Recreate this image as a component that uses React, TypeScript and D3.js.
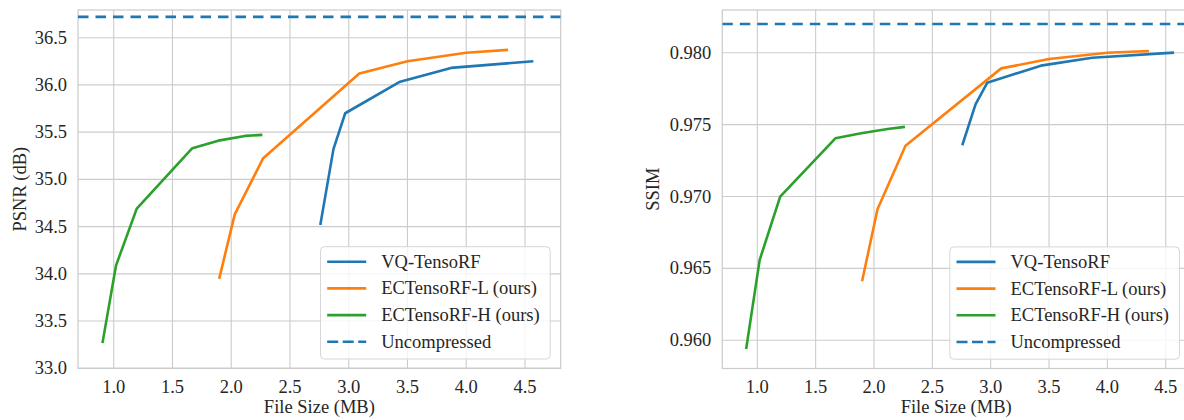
import React from "react";
import * as d3 from "d3";

// ---- data ----
const fileSizeVQ = [2.76, 2.87, 2.97, 3.43, 3.87, 4.56];
const psnrVQ = [34.53, 35.32, 35.7, 36.03, 36.18, 36.25];
const ssimVQ = [0.97365, 0.97641, 0.97791, 0.9791, 0.97965, 0.98];

const fileSizeL = [1.9, 2.03, 2.27, 3.09, 3.5, 4.0, 4.345];
const psnrL = [33.96, 34.63, 35.22, 36.12, 36.25, 36.34, 36.37];
const ssimL = [0.96419, 0.96911, 0.97353, 0.97891, 0.97956, 0.98, 0.98012];

const fileSizeH = [0.906, 1.02, 1.196, 1.669, 1.89, 2.117, 2.254];
const psnrH = [33.28, 34.09, 34.69, 35.33, 35.41, 35.46, 35.47];
const ssimH = [0.95949, 0.96558, 0.96999, 0.97405, 0.9744, 0.9747, 0.97483];

const uncompressedPSNR = 36.72;
const uncompressedSSIM = 0.982;

const seriesNames = ["VQ-TensoRF", "ECTensoRF-L (ours)", "ECTensoRF-H (ours)", "Uncompressed"];
const seriesColors = ["#1f77b4", "#ff7f0e", "#2ca02c", "#1f77b4"];

const xTicks = [1.0, 1.5, 2.0, 2.5, 3.0, 3.5, 4.0, 4.5];
const psnrTicks = [33.0, 33.5, 34.0, 34.5, 35.0, 35.5, 36.0, 36.5];
const ssimTicks = [0.96, 0.965, 0.97, 0.975, 0.98];

const FONT = "'Liberation Serif', 'Times New Roman', serif";
const FS = 18.5;
const TEXT = "#262626";
const GRID = "#cccccc";
const LW = 2.6;
const DASH = "10.5 7";
const LEG_DASH = "11 4.5";

type Panel = {
  x0: number; x1: number; y0: number; y1: number;
  xDomain: [number, number]; yDomain: [number, number];
  yTicks: number[]; yFmt: (v: number) => string;
  ylabel: string; ylabelX: number;
  series: { x: number[]; y: number[] }[];
  hline: number;
};

const panels: Panel[] = [
  {
    x0: 78, x1: 560.7, y0: 10, y1: 368.3,
    xDomain: [0.696, 4.804], yDomain: [33.0, 36.793],
    yTicks: psnrTicks, yFmt: d3.format(".1f"),
    ylabel: "PSNR (dB)", ylabelX: 20,
    series: [
      { x: fileSizeVQ, y: psnrVQ },
      { x: fileSizeL, y: psnrL },
      { x: fileSizeH, y: psnrH },
    ],
    hline: uncompressedPSNR,
  },
  {
    x0: 722.3, x1: 1190, y0: 10, y1: 368.5,
    xDomain: [0.7, 4.708], yDomain: [0.95804, 0.98297],
    yTicks: ssimTicks, yFmt: d3.format(".3f"),
    ylabel: "SSIM", ylabelX: 653,
    series: [
      { x: fileSizeVQ, y: ssimVQ },
      { x: fileSizeL, y: ssimL },
      { x: fileSizeH, y: ssimH },
    ],
    hline: uncompressedSSIM,
  },
];

function PanelView({ p, idx }: { p: Panel; idx: number }) {
  const xs = d3.scaleLinear().domain(p.xDomain).range([p.x0, p.x1]);
  const ys = d3.scaleLinear().domain(p.yDomain).range([p.y1, p.y0]);
  const line = d3
    .line<[number, number]>()
    .x((d) => xs(d[0]))
    .y((d) => ys(d[1]));
  const clipId = `clip-${idx}`;
  const fx = d3.format(".1f");

  const legW = 229.7;
  const legH = 112.3;
  const legX = p.x1 - 10.5 - legW;
  const legY = p.y1 - 9.3 - legH;
  const rowH = 26.7;

  return (
    <g>
      <defs>
        <clipPath id={clipId}>
          <rect x={p.x0} y={p.y0} width={p.x1 - p.x0} height={p.y1 - p.y0} />
        </clipPath>
      </defs>
      {/* grid */}
      {xTicks.map((t) => (
        <line key={"gx" + t} x1={xs(t)} x2={xs(t)} y1={p.y0} y2={p.y1} stroke={GRID} strokeWidth={1.1} />
      ))}
      {p.yTicks.map((t) => (
        <line key={"gy" + t} x1={p.x0} x2={p.x1} y1={ys(t)} y2={ys(t)} stroke={GRID} strokeWidth={1.1} />
      ))}
      {/* spines */}
      <rect x={p.x0} y={p.y0} width={p.x1 - p.x0} height={p.y1 - p.y0} fill="none" stroke={GRID} strokeWidth={1.25} />
      {/* tick labels */}
      {xTicks.map((t) => (
        <text key={"tx" + t} x={xs(t)} y={p.y1 + 24.5} textAnchor="middle" fontSize={FS} fill={TEXT} fontFamily={FONT}>
          {fx(t)}
        </text>
      ))}
      {p.yTicks.map((t) => (
        <text key={"ty" + t} x={p.x0 - 11} y={ys(t) + 6} textAnchor="end" fontSize={FS} fill={TEXT} fontFamily={FONT}>
          {p.yFmt(t)}
        </text>
      ))}
      {/* axis labels */}
      <text x={(p.x0 + p.x1) / 2} y={413} textAnchor="middle" fontSize={FS} fill={TEXT} fontFamily={FONT}>
        File Size (MB)
      </text>
      <text
        transform={`translate(${p.ylabelX + 6},${(p.y0 + p.y1) / 2}) rotate(-90)`}
        textAnchor="middle"
        fontSize={FS}
        fill={TEXT}
        fontFamily={FONT}
      >
        {p.ylabel}
      </text>
      {/* data */}
      <g clipPath={`url(#${clipId})`}>
        {p.series.map((s, i) => (
          <path
            key={"s" + i}
            d={line(s.x.map((v, j) => [v, s.y[j]] as [number, number])) || ""}
            fill="none"
            stroke={seriesColors[i]}
            strokeWidth={LW}
            strokeLinecap="square"
            strokeLinejoin="round"
          />
        ))}
        <line
          x1={p.x0}
          x2={p.x1}
          y1={ys(p.hline)}
          y2={ys(p.hline)}
          stroke={seriesColors[3]}
          strokeWidth={LW}
          strokeDasharray={DASH}
        />
      </g>
      {/* legend */}
      <rect x={legX} y={legY} width={legW} height={legH} rx={4} fill="#ffffff" fillOpacity={0.8} stroke="#d6d6d6" strokeWidth={1} />
      {seriesNames.map((n, i) => {
        const cy = legY + 15 + i * rowH;
        return (
          <g key={"lg" + i}>
            <line
              x1={legX + 6.7}
              x2={legX + 45.7}
              y1={cy}
              y2={cy}
              stroke={seriesColors[i]}
              strokeWidth={LW}
              strokeDasharray={i === 3 ? LEG_DASH : undefined}
            />
            <text x={legX + 60.7} y={cy + 6} fontSize={FS} fill={TEXT} fontFamily={FONT}>
              {n}
            </text>
          </g>
        );
      })}
    </g>
  );
}

export default function App() {
  return (
    <div style={{ position: "absolute", left: 0, top: 0, width: 1184, height: 420, overflow: "hidden", background: "#fff" }}>
      <svg width={1184} height={420} style={{ display: "block" }}>
        <rect width={1184} height={420} fill="#ffffff" />
        {panels.map((p, i) => (
          <PanelView key={i} p={p} idx={i} />
        ))}
      </svg>
    </div>
  );
}
